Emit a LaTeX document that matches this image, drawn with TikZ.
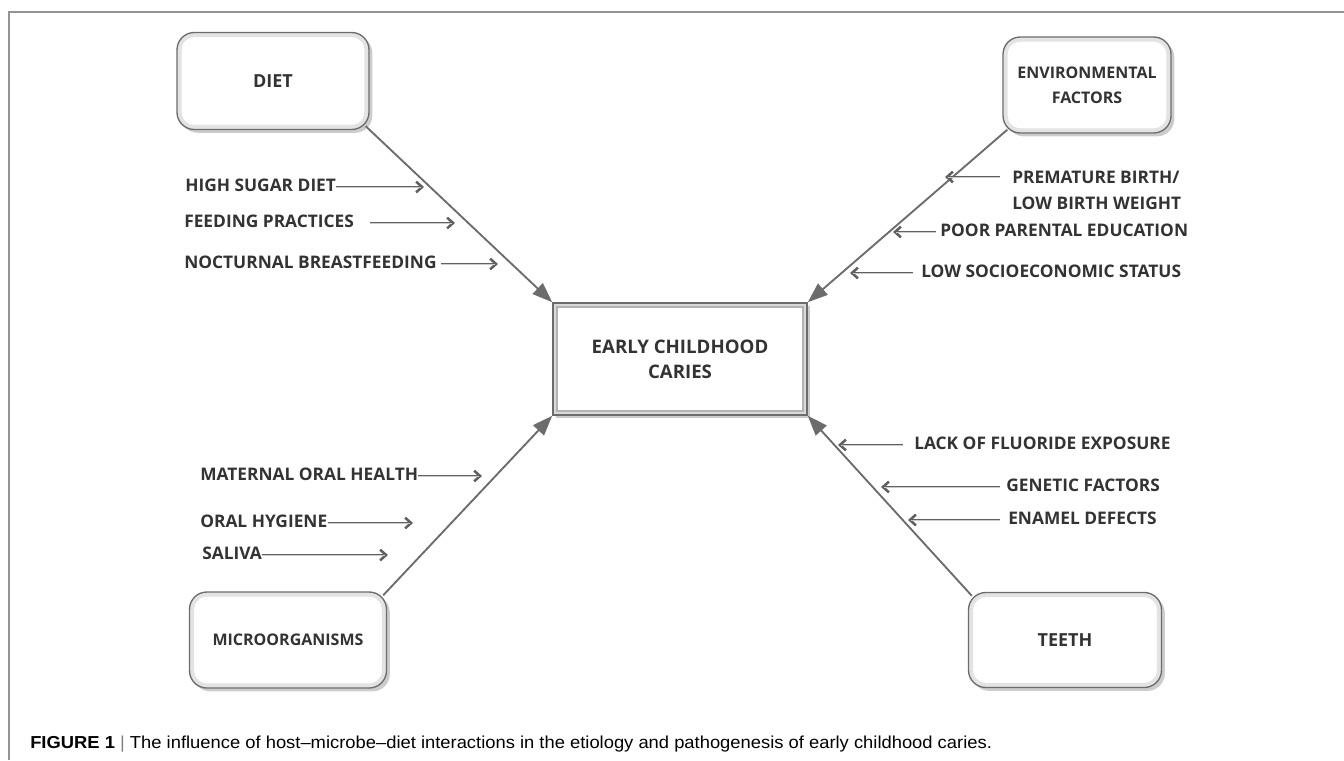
\documentclass[tikz,border=0pt]{standalone}
\usepackage{fontspec}
\setmainfont{Liberation Sans}
\newfontfamily\boxfont{Open Sans}
\newfontfamily\capfont[FakeStretch=1.06]{Liberation Sans}
\usetikzlibrary{arrows.meta,shadows,positioning}

\def\px{0.75pt}

\begin{document}
\begin{tikzpicture}[x=\px,y=-\px]
    \tikzstyle{cbox}=[draw=gray!85!black, line width=1pt, rounded corners=13pt, fill=white,
        path picture={\draw[gray!22, line width=7pt, rounded corners=13pt]
            (path picture bounding box.south west) rectangle (path picture bounding box.north east);},
        align=center, font=\boxfont\bfseries\fontsize{13.5}{17}\selectfont, text=black!80,
        drop shadow={shadow xshift=2.5pt, shadow yshift=-2.5pt, opacity=0.4, fill=gray}]
    \tikzstyle{ecc}=[cbox, rounded corners=0pt, line width=1.2pt,
        path picture={\draw[gray!30, line width=8pt]
            (path picture bounding box.south west) rectangle (path picture bounding box.north east);
            \draw[gray!60, line width=0.8pt] ([shift={(3pt,3pt)}]path picture bounding box.south west)
            rectangle ([shift={(-3pt,-3pt)}]path picture bounding box.north east);},
        font=\boxfont\bfseries\fontsize{14}{19}\selectfont]
    \tikzstyle{cause}=[anchor=west, inner sep=0pt, text depth=0pt, text height=0.72em, text=black!80,
        font=\boxfont\bfseries\fontsize{13}{19.5}\selectfont, align=left]
    \tikzstyle{main}=[draw=gray!85!black, line width=1.4pt, -{Triangle[length=15pt,width=11pt]}]
    \tikzstyle{feed}=[draw=gray!75!black, line width=1.9pt, -{Straight Barb[length=4.5pt,width=8pt]},
        postaction={draw=gray!40, line width=0.6pt, arrows=-, shorten >=2.5pt}]
    \tikzstyle{frame}=[draw=gray!85, line width=1.1pt]

    \useasboundingbox (0,0) rectangle (1344,760);

    % Frame of the figure
    \draw[frame] (9,760) -- (9,12) -- (1344,12);

    % Draw the factor boxes and the centre box
    \node[cbox, minimum width=192*\px, minimum height=97*\px] (diet) at (273,81) {DIET};
    \node[cbox, minimum width=168*\px, minimum height=96*\px,
        font=\boxfont\bfseries\fontsize{12}{19}\selectfont] (env) at (1087,85) {ENVIRONMENTAL\\FACTORS};
    \node[cbox, minimum width=197*\px, minimum height=96*\px,
        font=\boxfont\bfseries\fontsize{12}{17}\selectfont] (micro) at (288,640) {MICROORGANISMS};
    \node[cbox, minimum width=193*\px, minimum height=95*\px] (teeth) at (1065,640) {TEETH};
    \node[ecc, minimum width=254*\px, minimum height=112*\px] (ecc) at (680,359) {EARLY CHILDHOOD\\CARIES};

    % Connect the factor boxes to the centre box
    \draw[main] ([shift={(-4,-4)}]diet.south east) -- (ecc.north west);
    \draw[main] ([shift={(5,-4)}]env.south west) -- (ecc.north east);
    \draw[main] ([shift={(-4,4)}]micro.north east) -- (ecc.south west);
    \draw[main] ([shift={(4,4)}]teeth.north west) -- (ecc.south east);

    % Causes on the left side, arrows pointing right
    \foreach \name/\txt/\x/\y/\gap/\tip in {hsd/HIGH SUGAR DIET/185/187/0/424,
            fp/FEEDING PRACTICES/184/223/16/455, nb/NOCTURNAL BREASTFEEDING/184/264/4/498,
            moh/MATERNAL ORAL HEALTH/200/476/0/482, oh/ORAL HYGIENE/200/523/0/413,
            sal/SALIVA/202/555/0/388}
    {
        \node[cause] (\name) at (\x,\y) {\txt};
        \coordinate (\name-tip) at (\tip,\y);
        \draw[feed] ([xshift=\gap*\px]\name.east) -- (\name-tip);
    }

    % Causes on the right side, arrows pointing left
    \foreach \name/\txt/\x/\y/\gap/\tip in {ppe/POOR PARENTAL EDUCATION/940/232/4/893,
            lse/LOW SOCIOECONOMIC STATUS/921/273/8/850, lfe/LACK OF FLUORIDE EXPOSURE/914/445/11/838,
            gf/GENETIC FACTORS/1006/487/6/881, ed/ENAMEL DEFECTS/1008/520/8/908}
    {
        \node[cause] (\name) at (\x,\y) {\txt};
        \coordinate (\name-tip) at (\tip,\y);
        \draw[feed] ([xshift=-\gap*\px]\name.west) -- (\name-tip);
    }
    \node[cause, anchor=north west, text height=, text depth=] (pb) at (1012,171) {PREMATURE BIRTH/\\LOW BIRTH WEIGHT};
    \coordinate (pb-start) at (1000,177);
    \coordinate (pb-tip) at (945,177);
    \draw[feed] (pb-start) -- (pb-tip);

    % Caption
    \node[anchor=west, inner sep=0pt, font=\capfont\fontsize{13}{15}\selectfont] (cap) at (30,744)
        {\textbf{FIGURE 1} {\color{gray}|} The influence of host–microbe–diet interactions in the etiology and pathogenesis of early childhood caries.};
\end{tikzpicture}
\end{document}
